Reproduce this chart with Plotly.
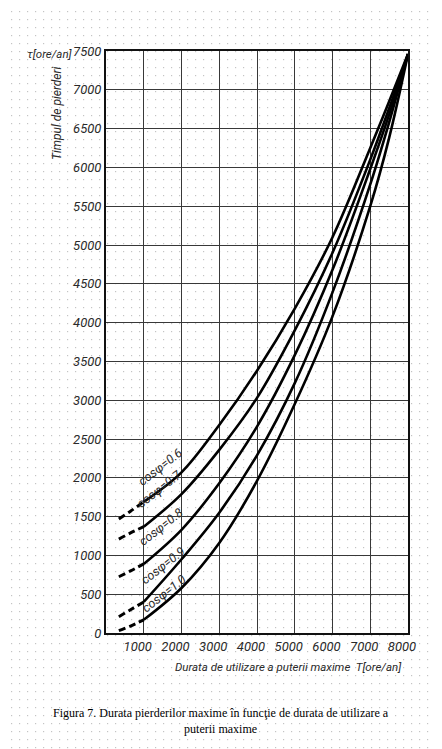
import base64
import plotly.graph_objects as go

# ---- data ----
T_solid = [1000, 2000, 3000, 4000, 5000, 6000, 7000, 7500, 8000]
tau_06 = [1690, 2070, 2680, 3380, 4180, 5100, 6250, 6850, 7460]
tau_07 = [1370, 1790, 2360, 3030, 3900, 4900, 6100, 6760, 7460]
tau_08 = [890, 1330, 1930, 2660, 3580, 4680, 5980, 6680, 7460]
tau_09 = [400, 950, 1550, 2290, 3220, 4390, 5780, 6580, 7460]
tau_10 = [170, 580, 1160, 1960, 2950, 4080, 5500, 6380, 7460]

T_dash = [340, 650, 1000]
dash_06 = [1470, 1570, 1690]
dash_07 = [1210, 1290, 1370]
dash_08 = [725, 800, 890]
dash_09 = [210, 300, 400]
dash_10 = [30, 90, 170]

curve_names = ["cosφ=0.6", "cosφ=0.7", "cosφ=0.8", "cosφ=0.9", "cosφ=1.0"]
label_T = [1440, 1420, 1460, 1500, 1530]
label_tau = [2150, 1860, 1370, 870, 510]

x_ticks = [1000, 2000, 3000, 4000, 5000, 6000, 7000, 8000]
y_ticks = list(range(0, 7501, 500))

solid = [tau_06, tau_07, tau_08, tau_09, tau_10]
dashed = [dash_06, dash_07, dash_08, dash_09, dash_10]

# page has an 8px body margin: figure is 434x741 drawn at (8, 8)
OFF = 8
W, H = 442 - OFF, 749 - OFF
L, R, TOP, BOT = 106 - OFF, 408 - OFF, 51 - OFF, 633 - OFF

fig = go.Figure()
for ys in dashed:
    fig.add_trace(go.Scatter(x=T_dash, y=ys, mode="lines",
                             line=dict(color="black", width=3, dash="7px,4px", shape="spline"),
                             hoverinfo="skip", showlegend=False))
for ys in solid:
    fig.add_trace(go.Scatter(x=T_solid, y=ys, mode="lines",
                             line=dict(color="black", width=2.6, shape="spline", smoothing=1.0),
                             showlegend=False))

italic = dict(family="Roboto, Liberation Sans", style="italic", color="#2a2a2a")

for name, tx, ty in zip(curve_names, label_T, label_tau):
    fig.add_annotation(x=tx, y=ty, text=name, showarrow=False, textangle=-38,
                       xanchor="center", yanchor="middle",
                       font=dict(size=12.5, **italic))

# background dotted texture (page styling)
svg = ('<svg xmlns="http://www.w3.org/2000/svg" width="%d" height="%d">'
       '<defs><pattern id="p" width="8" height="8" patternUnits="userSpaceOnUse">'
       '<rect x="3" y="3" width="1.2" height="1.2" fill="#c4c4c4"/></pattern></defs>'
       '<rect width="100%%" height="100%%" fill="url(#p)"/></svg>') % (W, H)
src = "data:image/svg+xml;base64," + base64.b64encode(svg.encode()).decode()

fig.update_layout(
    template="none",
    width=W, height=H,
    margin=dict(l=0, r=0, t=0, b=0, pad=0, autoexpand=False),
    paper_bgcolor="white", plot_bgcolor="rgba(0,0,0,0)",
    images=[dict(source=src, xref="paper", yref="paper", x=0, y=1, sizex=1, sizey=1,
                 sizing="stretch", layer="below", xanchor="left", yanchor="top")],
    xaxis=dict(domain=[L / W, R / W], range=[0, 8000], tickvals=x_ticks, automargin=False,
               showgrid=True, gridcolor="#383838", gridwidth=1.4,
               showline=True, linecolor="#111", linewidth=2, mirror=True,
               zeroline=False, ticks="", ticklabelshift=-6,
               tickfont=dict(size=13, **italic)),
    yaxis=dict(domain=[(H - BOT) / H, (H - TOP) / H], range=[0, 7500], tickvals=y_ticks, automargin=False,
               showgrid=True, gridcolor="#383838", gridwidth=1.4,
               showline=True, linecolor="#111", linewidth=2, mirror=True,
               zeroline=False, ticks="",
               tickfont=dict(size=13, **italic)),
    showlegend=False,
)

def px(xp, yp):
    return ((xp - OFF) / W, 1 - (yp - OFF) / H)

def note(xp, yp, text, **kw):
    ax, ay = px(xp, yp)
    fig.add_annotation(xref="paper", yref="paper", x=ax, y=ay, text=text, showarrow=False,
                       xanchor=kw.pop("xanchor", "center"), yanchor="middle", **kw)

note(57, 114, "Timpul de pierderi", textangle=-90, font=dict(size=12, **italic))
note(50, 54, "τ[ore/an]", font=dict(size=11.5, **italic))
note(404, 667, "Durata de utilizare a puterii maxime  T[ore/an]", xanchor="right",
     font=dict(size=11.5, **italic))
note(221, 721, "Figura 7. Durata pierderilor maxime în funcţie de durata de utilizare a<br>puterii maxime",
     align="center", font=dict(size=12, family="Liberation Serif, Times New Roman", color="black"))

fig.write_html("out.html")
